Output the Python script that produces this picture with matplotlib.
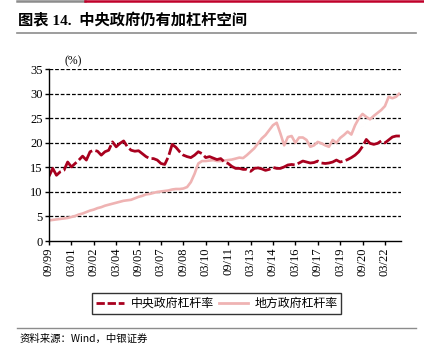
import matplotlib
matplotlib.use("Agg")
import matplotlib.pyplot as plt
from matplotlib.lines import Line2D
import numpy as np

# quarterly data, 1999-09 .. 2023-03
central = [13.2, 14.8, 13.4, 14.1, 14.4, 16.1, 15.1, 15.8, 16.5, 17.3,
           16.5, 18.2, 18.5, 18.3, 17.5, 18.2, 18.5, 20.2, 19.2, 19.9,
           20.4, 19.2, 18.5, 18.3, 18.4, 17.8, 17.2, 16.8, 16.8, 16.5,
           15.8, 15.6, 17.2, 19.7, 19.1, 18.2, 17.5, 17.2, 17.0, 17.5,
           18.2, 17.8, 17.0, 17.2, 16.9, 16.6, 16.8, 16.1, 15.8, 15.2,
           14.8, 14.8, 14.6, 14.6, 14.2, 14.8, 14.9, 14.7, 14.4, 14.6,
           15.0, 14.8, 14.8, 15.1, 15.5, 15.6, 15.5, 15.9, 16.3, 16.1,
           15.9, 16.0, 16.3, 15.9, 15.8, 15.9, 16.1, 16.5, 16.1, 16.3,
           16.6, 17.0, 17.5, 18.2, 19.3, 20.7, 19.9, 19.7, 19.9, 20.4,
           20.0, 20.6, 21.2, 21.4, 21.4]
local = [4.2, 4.3, 4.4, 4.5, 4.6, 4.7, 4.9, 5.1, 5.4, 5.6,
         5.9, 6.2, 6.4, 6.7, 6.9, 7.2, 7.4, 7.6, 7.8, 8.0,
         8.2, 8.3, 8.4, 8.7, 9.0, 9.2, 9.5, 9.6, 9.8, 10.0,
         10.1, 10.2, 10.3, 10.5, 10.6, 10.6, 10.7, 11.0, 12.0, 13.7,
         15.8, 16.3, 16.3, 16.4, 16.5, 16.3, 16.3, 16.4, 16.5, 16.6,
         16.8, 17.0, 16.9, 17.5, 18.2, 18.9, 19.9, 20.9, 21.6, 22.6,
         23.6, 24.1, 21.9, 19.5, 21.2, 21.4, 20.0, 21.1, 21.1, 20.6,
         19.2, 19.5, 20.2, 19.9, 19.5, 19.2, 20.6, 20.0, 21.0, 21.6,
         22.3, 21.7, 23.6, 25.0, 25.9, 25.3, 24.8, 25.5, 26.1, 26.7,
         27.5, 29.4, 29.1, 29.4, 30.2]
tick_labels = ["09/99", "03/01", "09/02", "03/04", "09/05", "03/07", "09/08", "03/10",
               "09/11", "03/13", "09/14", "03/16", "09/17", "03/19", "09/20", "03/22"]
yticks = [0, 5, 10, 15, 20, 25, 30, 35]

RED = "#A8001E"
PINK = "#EFB3B3"
serif = ["Liberation Serif", "Noto Sans CJK SC"]
cjk = ["Noto Sans CJK SC", "DejaVu Sans"]

fig = plt.figure(figsize=(4.24, 3.59), dpi=100)
W, H = 424, 359

# header bars
fig.add_artist(Line2D([17 / W, 85 / W], [1 - 1 / H, 1 - 1 / H], color="#8c8c8c", lw=1.8))
fig.add_artist(Line2D([85 / W, 1.0], [1 - 1 / H, 1 - 1 / H], color="#C0002A", lw=1.8))
fig.text(18 / W, 1 - 21 / H, "图表 14.  中央政府仍有加杠杆空间", family=serif,
         fontsize=11, fontweight="bold", va="center", ha="left")
fig.add_artist(Line2D([17 / W, 416 / W], [1 - 33 / H, 1 - 33 / H], color="#8c8c8c", lw=1.2))

ax = fig.add_axes([49 / W, 1 - 241 / H, 352 / W, (241 - 69.3) / H])
x = np.arange(len(central))
ax.plot(x, local, color=PINK, lw=1.9, solid_capstyle="butt")
ax.plot(x, central, color=RED, lw=2.0, linestyle=(0, (8, 1.2)))

ax.set_xlim(0, 94.3)
ax.set_ylim(0, 35)
ax.set_yticks(yticks)
ax.set_yticklabels([str(v) for v in yticks], family=serif, fontsize=9)
ax.set_xticks(np.arange(0, 91, 6))
ax.set_xticklabels(tick_labels, rotation=90, family=serif, fontsize=9)
for v in yticks[1:]:
    ax.axhline(v, color="black", lw=0.9, linestyle=(0, (3, 1.5)), zorder=0)
for s in ["top", "right"]:
    ax.spines[s].set_visible(False)
ax.spines["left"].set_linewidth(1.0)
ax.spines["bottom"].set_linewidth(1.0)
ax.tick_params(axis="both", direction="out", length=3, width=1.0, pad=1.5, colors="black")
ax.text(0.045, 1.01, "(%)", transform=ax.transAxes, family=serif, fontsize=8.5,
        ha="left", va="bottom")

handles = [Line2D([], [], color=RED, lw=2, linestyle=(0, (3, 1))),
           Line2D([], [], color=PINK, lw=2)]
leg = fig.legend(handles, ["中央政府杠杆率", "地方政府杠杆率"], loc="center",
                 bbox_to_anchor=(216.5 / W, 1 - 303.5 / H), ncol=2, frameon=True,
                 fancybox=False, handlelength=2.4, handletextpad=0.5, columnspacing=0.5,
                 borderpad=0.35, prop={"family": cjk, "size": 8.6})
leg.get_frame().set_edgecolor("black")
leg.get_frame().set_linewidth(1.0)

fig.add_artist(Line2D([17 / W, 416 / W], [1 - 328 / H, 1 - 328 / H], color="#8c8c8c", lw=1.0))
fig.text(20 / W, 1 - 339 / H, "资料来源：Wind，中银证券", family=cjk, fontsize=7.5,
         style="italic", va="center", ha="left")

fig.savefig("out.png", dpi=100)
